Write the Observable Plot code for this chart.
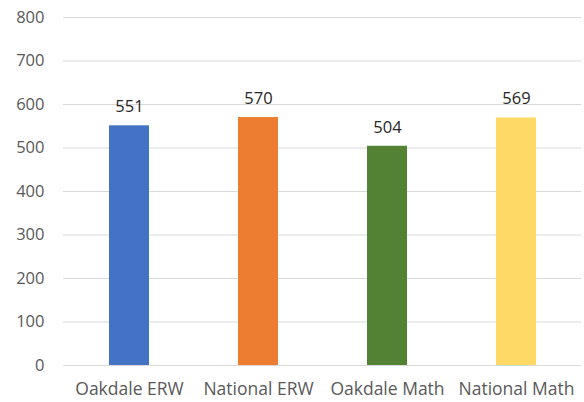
<!DOCTYPE html>
<html>
<head>
<meta charset="utf-8">
<script src="https://cdn.jsdelivr.net/npm/d3@7"></script>
<script src="https://cdn.jsdelivr.net/npm/@observablehq/plot@0.6"></script>
<style>
  html, body { margin: 0; padding: 0; background: #fff; }
  svg { display: block; }
</style>
</head>
<body>
<div id="chart"></div>
<script>
const categories = ["Oakdale ERW", "National ERW", "Oakdale Math", "National Math"];
const scores = [551, 570, 504, 569];
const colors = ["#4472C4", "#ED7D31", "#548235", "#FFD966"];
const yTicks = [0, 100, 200, 300, 400, 500, 600, 700, 800];

const data = categories.map((c, i) => ({category: c, score: scores[i]}));

const chart = Plot.plot({
  width: 584,
  height: 402,
  marginLeft: 63,
  marginRight: 3,
  marginTop: 17,
  marginBottom: 37,
  style: {fontFamily: "'Open Sans', 'Noto Sans', sans-serif", fontSize: "16.5px", color: "#595959", background: "#fff"},
  x: {domain: categories, paddingInner: 0.69, paddingOuter: 0.345, label: null},
  y: {domain: [0, 800], ticks: yTicks, label: null},
  color: {domain: categories, range: colors},
  marks: [
    Plot.gridY(yTicks, {stroke: "#d9d9d9", strokeOpacity: 1, strokeWidth: 1}),
    Plot.barY(data, {x: "category", y: "score", fill: "category"}),
    Plot.text(data, {x: "category", y: "score", text: d => String(d.score), dy: -19, fill: "#262626", fontSize: 16.5}),
    Plot.axisY({ticks: yTicks, tickSize: 0, tickPadding: 19, label: null, fill: "#595959", fontSize: 16.5}),
    Plot.axisX({tickSize: 0, tickPadding: 17, label: null, fill: "#595959", fontSize: 17.5})
  ]
});
document.getElementById("chart").appendChild(chart);
</script>
</body>
</html>
